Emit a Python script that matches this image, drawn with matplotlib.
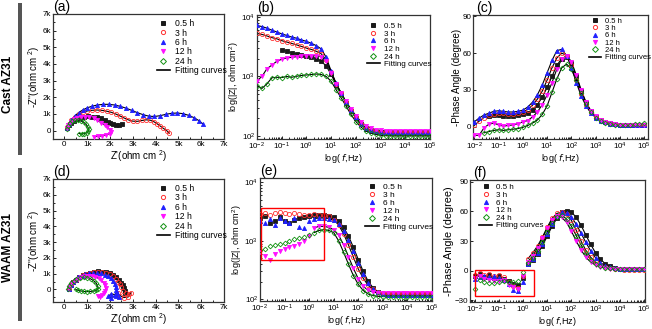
import numpy as np
import matplotlib.pyplot as plt
from matplotlib.patches import Rectangle
from matplotlib.lines import Line2D
from matplotlib.ticker import MultipleLocator, FuncFormatter, LogLocator, NullFormatter

plt.rcParams['font.family'] = ['Liberation Sans', 'DejaVu Sans']
plt.rcParams['mathtext.default'] = 'regular'

nan = np.nan

# series
times = ['0.5 h', '3 h', '6 h', '12 h', '24 h']
colors = ['#1a1a1a', '#ff3030', '#2020ff', '#ff10ff', '#109010']
markers = ['s', 'o', '^', 'v', 'D']
filled = [True, False, True, True, False]

# frequency grid (log10 Hz)
log_f = [-2.0, -1.8, -1.6, -1.4, -1.2, -1.0, -0.8, -0.6, -0.4, -0.2,
         0.0, 0.2, 0.4, 0.6, 0.8, 1.0, 1.2, 1.4, 1.6, 1.8,
         2.0, 2.2, 2.4, 2.6, 2.8, 3.0, 3.2, 3.4, 3.6, 3.8,
         4.0, 4.2, 4.4, 4.6, 4.8, 5.0]

# ---- Cast AZ31 Nyquist (ohm cm2)
cast_re_05 = [100, 180, 280, 400, 540, 700, 870, 1050, 1230, 1420, 1600, 1760, 1900, 2020, 2140, 2260, 2380, 2510]
cast_im_05 = [150, 330, 480, 600, 700, 780, 830, 850, 840, 800, 730, 640, 540, 440, 370, 340, 350, 380]
cast_re_3 = [100, 180, 300, 450, 620, 800, 1000, 1200, 1420, 1640, 1850, 2060, 2250, 2440, 2620, 2800, 3000, 3200,
             3400, 3580, 3760, 3920, 4060, 4200, 4340, 4480, 4600]
cast_im_3 = [200, 420, 640, 840, 990, 1100, 1180, 1220, 1240, 1220, 1170, 1100, 1000, 880, 760, 650, 570, 560,
             610, 650, 630, 540, 420, 280, 140, 10, -150]
cast_re_6 = [100, 180, 300, 450, 620, 800, 1000, 1220, 1450, 1700, 1950, 2200, 2450, 2700, 2950, 3200, 3450, 3700,
             3950, 4200, 4450, 4700, 4950, 5200, 5450, 5700, 5900, 6080]
cast_im_6 = [150, 390, 640, 880, 1080, 1240, 1370, 1470, 1540, 1580, 1580, 1540, 1460, 1350, 1220, 1080, 960, 870,
             850, 900, 980, 1040, 1060, 1020, 920, 770, 600, 400]
cast_re_12 = [100, 170, 270, 400, 560, 740, 920, 1100, 1280, 1450, 1610, 1760, 1890, 2000, 2060, 1980, 1830, 1650, 1470, 1320]
cast_im_12 = [150, 360, 540, 680, 780, 830, 840, 810, 730, 620, 480, 340, 200, 70, -60, -180, -260, -310, -340, -360]
cast_re_24 = [100, 150, 230, 340, 470, 600, 730, 850, 950, 1020, 1060, 1050, 980, 870, 750, 630]
cast_im_24 = [100, 280, 430, 550, 610, 620, 580, 500, 380, 240, 100, -30, -130, -180, -190, -170]

# ---- Cast AZ31 |Z| (ohm cm2)
cast_z_05 = [nan, nan, nan, nan, nan, 2800, 2650, 2500, 2400, 2300, 2200, 2100, 2000, 1800, 1500, 1080, 730, 510,
             360, 265, 200, 157, 133, 122, 117, 115, 114, 114, 114, 114, 114, 114, 114, 114, 114, 114]
cast_z_3 = [5300, 5100, 4800, 4500, 4300, 4000, 3800, 3600, 3400, 3200, 3000, 2850, 2650, 2400, 1900, 1200, 750, 520,
            370, 270, 205, 160, 137, 125, 119, 117, 116, 116, 116, 116, 116, 116, 116, 116, 116, 116]
cast_z_6 = [7200, 6900, 6500, 6000, 5600, 5200, 4900, 4600, 4400, 4100, 3900, 3600, 3300, 2900, 2100, 1230, 770, 530,
            375, 275, 207, 160, 137, 125, 119, 117, 116, 116, 116, 116, 116, 116, 116, 116, 116, 116]
cast_z_12 = [850, 1000, 1350, 1550, 1800, 1950, 2050, 2100, 2150, 2200, 2220, 2230, 2230, 2150, 1850, 1150, 760, 530,
             380, 285, 220, 175, 150, 135, 128, 124, 122, 122, 122, 122, 122, 122, 122, 122, 122, 122]
cast_z_24 = [700, 630, 750, 950, 970, 960, 1000, 970, 1010, 1040, 1060, 1080, 1100, 1080, 1000, 830, 600, 440,
             320, 230, 175, 142, 122, 112, 106, 103, 101, 100, 100, 100, 100, 100, 100, 100, 100, 100]

# ---- Cast AZ31 -phase (deg)
cast_p_05 = [nan, nan, nan, 9, 9.5, 9.5, 9, 9, 9, 9.5, 10, 11.5, 14, 18, 24, 32, 41, 50,
             55.5, 57, 52, 41, 29, 19.5, 12.5, 8.3, 5.4, 3.7, 2.7, 2, 1.6, 1.4, 1.3, 1.3, 1.3, 1.3]
cast_p_3 = [1, 4.5, 7.5, 9.5, 10.5, 11, 11, 10.5, 10.5, 11, 12, 14, 17.5, 22.5, 29, 38, 48, 56,
            60, 58, 50, 38, 27, 18, 12, 8, 5.2, 3.6, 2.6, 2, 1.6, 1.4, 1.3, 1.3, 1.3, 1.3]
cast_p_6 = [4, 7, 9.5, 11, 12.5, 13, 12.5, 12, 12, 12.5, 13.5, 16, 20, 26, 34, 44, 54, 62,
            63, 58, 48, 36, 25, 17, 11, 7.5, 5, 3.5, 2.5, 2, 1.6, 1.4, 1.3, 1.3, 1.3, 1.3]
cast_p_12 = [-7, -7, -1, 2, 3, 1.5, 0.5, 1, 1.5, 2.5, 4, 5, 8, 12, 18, 26, 36, 47,
             55, 58, 53, 42, 30, 20, 13, 8.5, 5.5, 3.8, 2.8, 2.2, 1.8, 1.6, 1.5, 1.5, 1.5, 1.5]
cast_p_24 = [nan, nan, -5, -4, -3, -2.5, -3, -2.5, -2, -1.5, -0.5, 1, 3, 5.5, 10, 17, 28, 39,
             48, 51, 47, 38, 27.5, 18.5, 12, 7.5, 4.8, 3.2, 2.3, 1.8, 1.6, 1.6, 1.8, 2.1, 2.4, 2.8]

# ---- WAAM AZ31 Nyquist (ohm cm2)
waam_re_05 = [200, 280, 380, 500, 650, 800, 960, 1130, 1300, 1480, 1660, 1840, 2000, 2150, 2280, 2400, 2480, 2550,
              2600, 2640, 2660]
waam_im_05 = [50, 250, 450, 620, 780, 900, 1000, 1070, 1120, 1140, 1130, 1090, 1010, 900, 760, 600, 430, 260,
              90, -80, -220]
waam_re_3 = [200, 280, 380, 500, 650, 800, 960, 1130, 1300, 1480, 1660, 1830, 1990, 2130, 2260, 2360, 2440, 2500,
             2560, 2680, 2850, 2920, 2800, 2600, 2450, 2360]
waam_im_3 = [50, 250, 450, 620, 770, 890, 980, 1050, 1090, 1100, 1080, 1030, 950, 830, 680, 500, 310, 120,
             -80, -250, -320, -200, -480, -520, -400, -260]
waam_re_6 = [200, 270, 360, 470, 610, 760, 920, 1090, 1260, 1430, 1600, 1760, 1900, 2030, 2130, 2200, 2250, 2280,
             2300, 2200, 2050, 1920, 2050, 2250, 2400]
waam_im_6 = [50, 250, 440, 610, 760, 880, 970, 1020, 1050, 1050, 1010, 940, 840, 700, 540, 360, 170, -20,
             -200, -330, -280, -450, -520, -400, -480]
waam_re_12 = [200, 260, 340, 450, 580, 730, 890, 1050, 1210, 1360, 1500, 1620, 1720, 1780, 1810, 1790, 1730, 1650,
              1560, 1470]
waam_im_12 = [50, 220, 390, 540, 660, 760, 820, 850, 840, 790, 700, 570, 420, 250, 80, -90, -240, -380, -500, -420]
waam_re_24 = [150, 210, 290, 400, 530, 680, 840, 1000, 1150, 1290, 1400, 1460, 1480, 1400, 1280, 1140, 1000, 860,
              720, 600, 500]
waam_im_24 = [20, 220, 400, 550, 660, 730, 760, 740, 670, 540, 380, 210, 50, -60, -110, -130, -140, -130, -100,
              -60, 0]

# ---- WAAM AZ31 |Z| (ohm cm2)
waam_z_05 = [2440, 2600, 2000, 2200, 2500, 2150, 2000, 2290, 2440, 2500, 2660, 2750, 2770, 2750, 2660, 2500, 2200, 1700,
             1210, 775, 480, 300, 205, 158, 135, 126, 123, 122, 122, 122, 122, 122, 122, 122, 122, 122]
waam_z_3 = [2900, 3000, 2800, 2950, 3050, 2950, 2900, 3000, 2850, 2750, 2800, 2850, 2800, 2750, 2650, 2300, 1860, 1320,
            850, 525, 330, 230, 174, 148, 135, 129, 127, 127, 127, 127, 127, 127, 127, 127, 127, 127]
waam_z_6 = [2200, 2000, 2400, 1850, 2450, 2200, 2050, 2450, 1750, 1650, 2200, 2400, 2450, 2450, 2400, 2250, 1950, 1480,
            1030, 660, 420, 270, 190, 150, 132, 124, 120, 120, 120, 120, 120, 120, 120, 120, 120, 120]
waam_z_12 = [640, 560, 470, 590, 670, 730, 770, 800, 880, 1000, 1200, 1650, 1770, 1760, 1700, 1560, 1250, 860,
             540, 340, 225, 168, 143, 133, 129, 128, 128, 128, 128, 128, 128, 128, 128, 128, 128, 128]
waam_z_24 = [700, 720, 800, 860, 880, 930, 1000, 1060, 1130, 1150, 1250, 1380, 1500, 1550, 1500, 1380, 1000, 640,
             400, 255, 180, 142, 124, 116, 113, 112, 111, 111, 111, 111, 111, 111, 111, 111, 111, 111]

# ---- WAAM AZ31 -phase (deg)
waam_p_05 = [-6, -4, -7, -5, -8, -6, -9, -11, -14, -15, -8, 7, 11, 17, 25, 35, 45, 53,
             59, 61, 59.5, 54, 46, 36, 26.5, 18, 11.5, 7, 4.3, 2.8, 2, 1.6, 1.5, 1.5, 1.5, 1.5]
waam_p_3 = [-5, -3, -5, -4, -6, -5, -7, -12, -16, -18, -6, 12, 18, 25, 34, 44, 53, 58,
            59.5, 57.5, 51, 41, 30, 20.5, 13.5, 8.5, 5.5, 3.5, 2.3, 1.6, 1.2, 1, 1, 1, 1, 1]
waam_p_6 = [-9, -7, -6, -7, -6, -8, -10, -14, -20, -21, -12, 7, 11.5, 18, 27, 37, 47, 55,
            59, 58.5, 54.5, 47, 38, 28.5, 20, 13, 8, 5, 3.2, 2.2, 1.7, 1.5, 1.5, 1.5, 1.5, 1.5]
waam_p_12 = [-8, -6, -9, -10, -11, -11, -10, -15, -17, -19, -6, 9, 15, 23, 33, 43, 51, 55,
             54, 49, 40, 30, 21, 13.5, 8.5, 5.5, 3.5, 2.5, 2, 1.6, 1.5, 1.5, 1.5, 1.5, 1.5, 1.5]
waam_p_24 = [-19, -10, -12, -13, -12.5, -11.5, -11, -11.5, -12, -11, -2, 8, 13, 20, 29, 39, 48, 54.5,
             56, 52.5, 45, 35.5, 26, 17.5, 11, 7, 4.5, 3, 2.2, 1.8, 1.6, 1.6, 1.6, 1.6, 1.6, 1.6]

freq = 10 ** np.array(log_f)

fig = plt.figure(figsize=(6.52, 3.29), dpi=100)
W, H = 652, 329


def add_ax(left, top, right, bottom):
    return fig.add_axes([left / W, 1 - bottom / H, (right - left) / W, (bottom - top) / H])


ax_a = add_ax(53, 14, 224, 139)
ax_b = add_ax(257, 15, 430, 139)
ax_c = add_ax(473, 15, 648, 139)
ax_d = add_ax(53, 179, 224, 302)
ax_e = add_ax(260, 178, 432, 301)
ax_f = add_ax(470, 180, 645, 302)

TICK = 5.8
LAB = 6.5


def style(ax):
    for s in ax.spines.values():
        s.set_linewidth(0.9)
        s.set_color('#333333')
    ax.tick_params(which='both', direction='in', labelsize=TICK, width=0.6, pad=1.2)
    ax.tick_params(which='major', length=2.5)
    ax.tick_params(which='minor', length=1.4)


def draw(ax, xs, ys, fit_from=0):
    for i in range(5):
        x = np.asarray(xs[i], dtype=float)
        y = np.asarray(ys[i], dtype=float)
        ax.plot(x[fit_from:], y[fit_from:], '-', color='black', lw=0.8, zorder=2)
    for i in range(5):
        mfc = colors[i] if filled[i] else 'none'
        ms = 2.6 if markers[i] in 's' else (2.4 if markers[i] == 'D' else 3.0)
        ax.plot(xs[i], ys[i], ls='none', marker=markers[i], ms=ms, mfc=mfc, mec=colors[i],
                mew=0.6, zorder=3)


def legend(ax, loc, anchor, fs, ls):
    hs = []
    for i in range(5):
        mfc = colors[i] if filled[i] else 'none'
        hs.append(Line2D([], [], ls='none', marker=markers[i], ms=3.0, mfc=mfc, mec=colors[i], mew=0.7))
    hs.append(Line2D([], [], color='black', lw=1.2))
    ax.legend(hs, times + ['Fitting curves'], loc=loc, bbox_to_anchor=anchor, frameon=False,
              fontsize=fs, handlelength=1.6, handletextpad=0.5, labelspacing=ls,
              borderpad=0.1, borderaxespad=0.2)


def nyquist(ax, re, im, ylo, panel):
    draw(ax, re, im)
    ax.set_xlim(-500, 7000)
    ax.set_ylim(ylo, 7000)
    kfmt = FuncFormatter(lambda v, p: '0' if v == 0 else '%dk' % round(v / 1000))
    ax.xaxis.set_major_locator(MultipleLocator(1000))
    ax.yaxis.set_major_locator(MultipleLocator(1000))
    ax.xaxis.set_minor_locator(MultipleLocator(500))
    ax.yaxis.set_minor_locator(MultipleLocator(500))
    ax.xaxis.set_major_formatter(kfmt)
    ax.yaxis.set_major_formatter(kfmt)
    style(ax)
    ax.set_xlabel("Z'(ohm cm $^{2}$)", fontsize=7, labelpad=0.5)
    ax.set_ylabel("-Z''(ohm cm $^{2}$)", fontsize=7, labelpad=0.5)
    legend(ax, 'upper right', (1.03, 0.98), 6.2, 0.05)
    ax.text(0.0, 1.0, panel, transform=ax.transAxes, fontsize=10, ha='left', va='bottom')


def logx(ax, xlim):
    ax.set_xscale('log')
    ax.set_xlim(*xlim)
    ax.xaxis.set_major_locator(LogLocator(base=10, numticks=12))
    ax.xaxis.set_minor_locator(LogLocator(base=10, subs=np.arange(2, 10), numticks=12))
    ax.xaxis.set_minor_formatter(NullFormatter())
    ax.set_xlabel('log( $\\it{f}$,Hz)', fontsize=LAB, labelpad=0)


def bode_z(ax, zs, ylim, panel, fit_from=0):
    draw(ax, [freq] * 5, zs, fit_from)
    ax.set_yscale('log')
    logx(ax, (1e-2, 1e5))
    ax.set_ylim(*ylim)
    ax.yaxis.set_major_locator(LogLocator(base=10, numticks=6))
    ax.yaxis.set_minor_locator(LogLocator(base=10, subs=np.arange(2, 10), numticks=6))
    ax.yaxis.set_minor_formatter(NullFormatter())
    style(ax)
    ax.set_ylabel('log(|Z|, ohm cm$^{2}$)', fontsize=LAB, labelpad=0.5)
    ax.text(0.0, 1.0, panel, transform=ax.transAxes, fontsize=10, ha='left', va='bottom')


def bode_p(ax, ps, ylim, xlim, panel, fit_from=0, lab=7):
    draw(ax, [freq] * 5, ps, fit_from)
    logx(ax, xlim)
    ax.set_ylim(*ylim)
    ax.yaxis.set_major_locator(MultipleLocator(30))
    style(ax)
    ax.set_ylabel('-Phase Angle (degree)', fontsize=lab, labelpad=0.5)
    ax.text(0.02, 1.0, panel, transform=ax.transAxes, fontsize=10, ha='left', va='bottom')


nyquist(ax_a, [cast_re_05, cast_re_3, cast_re_6, cast_re_12, cast_re_24],
        [cast_im_05, cast_im_3, cast_im_6, cast_im_12, cast_im_24], -500, '(a)')
nyquist(ax_d, [waam_re_05, waam_re_3, waam_re_6, waam_re_12, waam_re_24],
        [waam_im_05, waam_im_3, waam_im_6, waam_im_12, waam_im_24], -800, '(d)')

bode_z(ax_b, [cast_z_05, cast_z_3, cast_z_6, cast_z_12, cast_z_24], (89, 10800), '(b)')
legend(ax_b, 'upper right', (1.02, 0.96), 5.8, 0.0)
bode_z(ax_e, [waam_z_05, waam_z_3, waam_z_6, waam_z_12, waam_z_24], (94, 11800), '(e)', fit_from=11)
legend(ax_e, 'upper right', (1.02, 0.98), 6.0, 0.02)
ax_e.add_patch(Rectangle((0.011, 470), 4.0 - 0.011, 3600 - 470, fill=False, ec='red', lw=1.0, zorder=4))

bode_p(ax_c, [cast_p_05, cast_p_3, cast_p_6, cast_p_12, cast_p_24], (-10, 91), (10 ** -2.05, 10 ** 5.15),
       '(c)', lab=7)
legend(ax_c, 'upper right', (1.03, 1.0), 5.5, 0.0)
bode_p(ax_f, [waam_p_05, waam_p_3, waam_p_6, waam_p_12, waam_p_24], (-32, 92), (10 ** -2.2, 10 ** 5.05),
       '(f)', fit_from=11, lab=7.8)
legend(ax_f, 'upper left', (0.04, 0.99), 5.8, 0.0)
ax_f.add_patch(Rectangle((0.0105, -26), 2.8 - 0.0105, 27, fill=False, ec='red', lw=1.0, zorder=4))

# row labels with gray bars
fig.add_artist(Rectangle((18 / W, 1 - 155 / H), 4 / W, 152 / H, transform=fig.transFigure,
                         color='#555555', lw=0))
fig.add_artist(Rectangle((18 / W, 1 - 321 / H), 4 / W, 153 / H, transform=fig.transFigure,
                         color='#555555', lw=0))
fig.text(8 / W, 1 - 84 / H, 'Cast AZ31', rotation=90, fontsize=8.5, fontweight='bold',
         ha='center', va='center')
fig.text(8 / W, 1 - 248 / H, 'WAAM AZ31', rotation=90, fontsize=8.5, fontweight='bold',
         ha='center', va='center')

fig.savefig('out.png', dpi=100)
